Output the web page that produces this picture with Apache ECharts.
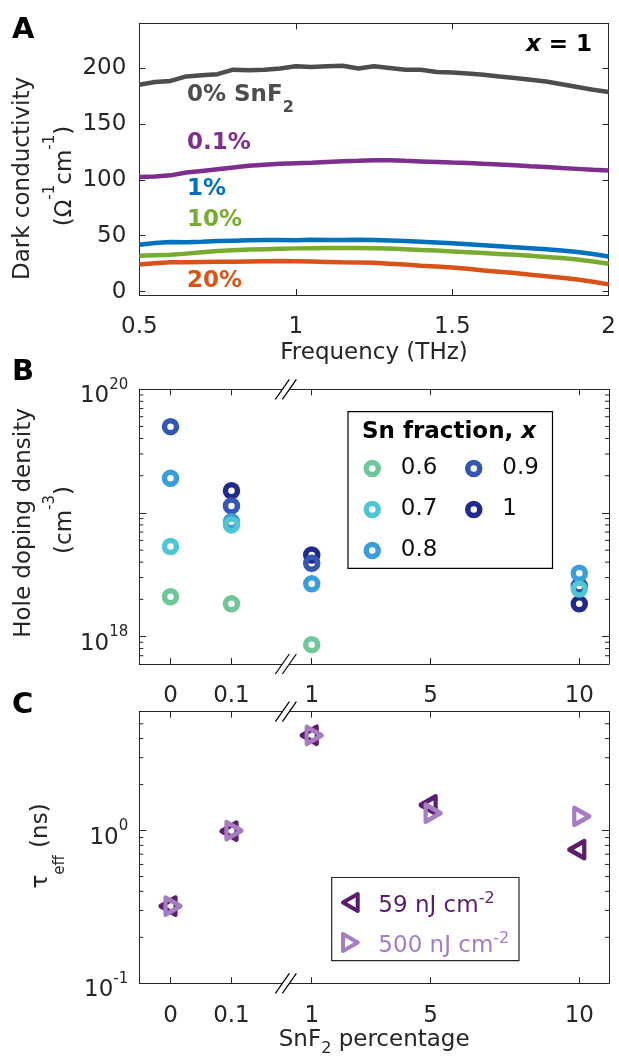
<!DOCTYPE html>
<html>
<head>
    <meta charset="UTF-8">
    <title>SnF2 conductivity / doping / lifetime</title>
    <script src="https://cdn.jsdelivr.net/npm/echarts@6.0.0/dist/echarts.min.js"></script>
    <style>
        html, body { margin: 0; padding: 0; background: #fff; }
        #chart { width: 619px; height: 1062px; }
    </style>
</head>
<body>
<div id="chart"></div>
<script>
    // ---- panel A: dark conductivity vs frequency (x = 1)
    const freq = [0.5, 0.55, 0.6, 0.65, 0.7, 0.75, 0.8, 0.85, 0.9, 0.95, 1.0, 1.05, 1.1, 1.15, 1.2, 1.25,
        1.3, 1.35, 1.4, 1.45, 1.5, 1.55, 1.6, 1.65, 1.7, 1.75, 1.8, 1.85, 1.9, 1.95, 2.0];
    const sigma0 = [185, 187.5, 188.5, 192.5, 193.5, 194.5, 198.5, 198, 198.5, 199.5, 201.5, 201, 201.5, 202, 199.5, 201.5,
        200, 198.5, 198.5, 196.5, 196, 195, 194, 192.5, 191, 189.5, 188, 185.5, 183, 180.5, 178.5];
    const sigma01 = [102.5, 103, 104, 106.5, 108, 109.5, 111, 112.5, 113.5, 114.3, 114.8, 115.3, 116, 116.6, 117, 117.5,
        117.6, 117, 116.5, 116, 115.4, 115, 114.3, 113.7, 113, 112.2, 111.5, 110.6, 109.8, 109, 108.3];
    const sigma1 = [42, 43.5, 44.5, 44.2, 44.6, 45.2, 45.6, 45.9, 46.2, 46.3, 46, 46.5, 46.2, 46.3, 46.5, 46.2,
        45.8, 45.2, 44.6, 43.9, 43.2, 42.4, 41.6, 40.7, 39.8, 38.9, 37.9, 36.8, 35.4, 33.6, 31.5];
    const sigma10 = [32, 32.5, 33, 34, 35.3, 36.3, 37, 37.6, 38, 38.4, 38.7, 38.9, 39, 39.1, 39.1, 38.9,
        38.6, 38, 37.3, 36.7, 36, 35.3, 34.5, 33.7, 32.9, 32, 31, 30, 28.7, 27, 25];
    const sigma20 = [24.3, 25.3, 26.2, 26.3, 26.5, 26.7, 26.8, 27, 27.2, 27.3, 27.2, 27, 26.6, 26.2, 26.1, 25.8,
        25, 24.2, 23.2, 22.4, 21.6, 20.4, 19, 17.8, 16.6, 15.2, 13.8, 12.4, 10.8, 8.8, 6.5];
    const yTicksA = [0, 50, 100, 150, 200];

    // ---- panels B and C share the broken SnF2 axis
    const pctLabels = ['0', '0.1', '1', '5', '10'];
    const pctPos = [-3.75, -1.7, 1, 5, 10];   // where each percentage sits on the broken axis
    const breakAt = 0.13;

    // hole doping density (cm^-3) per Sn fraction
    const hole06 = [2.1e18, 1.84e18, 8.6e17, null, null];
    const hole07 = [5.35e18, 8.0e18, null, null, 2.42e18];
    const hole08 = [1.91e19, 8.5e18, 2.67e18, null, 3.25e18];
    const hole09 = [4.99e19, 1.14e19, 3.92e18, null, 2.57e18];
    const hole10 = [null, 1.51e19, 4.57e18, null, 1.84e18];
    const logTicksB = [1e18, 1e19, 1e20];
    const logLabelsB = [1e18, 1e20];
    const minorB = [7e17, 8e17, 9e17, 2e18, 3e18, 4e18, 5e18, 6e18, 7e18, 8e18, 9e18,
        2e19, 3e19, 4e19, 5e19, 6e19, 7e19, 8e19, 9e19];

    // effective lifetime (ns)
    const tau59 = [0.32, 0.99, 4.2, 1.47, 0.75];
    const tau500 = [0.32, 1.0, 4.2, 1.30, 1.24];
    const logTicksC = [0.1, 1];
    const minorC = [0.2, 0.3, 0.4, 0.5, 0.6, 0.7, 0.8, 0.9, 2, 3, 4, 5];

    const AX = '#262626';
    const FONT = 'DejaVu Sans';
    const XMIN = -4.8, XMAX = 11;

    const chart = echarts.init(document.getElementById('chart'));

    const gridA = {left: 139.3, top: 23.3, width: 469.7, height: 271.7};
    const gridB = {left: 139.3, top: 389.3, width: 469.7, height: 274.7};
    const gridC = {left: 139.3, top: 711.7, width: 469.7, height: 271.6};

    function supLabel(v) {
        const e = Math.round(Math.log10(v));
        return '{b|10}{s|' + e + '}';
    }
    const supRich = {
        b: {fontSize: 23, lineHeight: 23, fontFamily: FONT, color: AX, padding: [14, 0, 0, 0]},
        s: {fontSize: 15, lineHeight: 15, fontFamily: FONT, color: AX, padding: [7, 0, 15, 0]}
    };
    function pctFormatter(v) {
        const i = pctPos.findIndex(p => Math.abs(p - v) < 1e-6);
        return i < 0 ? '' : pctLabels[i];
    }

    function baseAxis(grid, position) {
        return {
            gridIndex: grid, position: position,
            axisLine: {show: true, onZero: false, lineStyle: {color: AX, width: 1}},
            axisTick: {show: true, inside: true, length: 6, lineStyle: {color: AX, width: 1}},
            axisLabel: {show: false},
            splitLine: {show: false}
        };
    }

    const xAxes = [];
    // A bottom / top
    let ax = baseAxis(0, 'bottom');
    Object.assign(ax, {type: 'value', min: 0.5, max: 2, interval: 0.5,
        name: 'Frequency (THz)', nameLocation: 'middle', nameGap: 47,
        nameTextStyle: {fontSize: 23, fontFamily: FONT, color: AX}});
    ax.axisLabel = {show: true, fontSize: 23, fontFamily: FONT, color: AX, margin: 21};
    xAxes.push(ax);
    ax = baseAxis(0, 'top');
    Object.assign(ax, {type: 'value', min: 0.5, max: 2, interval: 0.5});
    xAxes.push(ax);
    // B bottom / top, C bottom / top
    [[1, 'bottom'], [1, 'top'], [2, 'bottom'], [2, 'top']].forEach(function (g) {
        const a = baseAxis(g[0], g[1]);
        a.type = 'value';
        a.min = XMIN;
        a.max = XMAX;
        a.axisTick.customValues = pctPos;
        xAxes.push(a);
    });
    xAxes[4].axisLabel = {show: true, customValues: pctPos, formatter: pctFormatter,
        fontSize: 23, fontFamily: FONT, color: AX, margin: 21};
    xAxes[4].name = '{a|SnF}{s|2}{a| percentage}';
    xAxes[4].nameLocation = 'middle';
    xAxes[4].nameGap = 46;
    xAxes[4].nameTextStyle = {rich: {
        a: {fontSize: 23, lineHeight: 23, fontFamily: FONT, color: AX, padding: [0, 0, 6, 0]},
        s: {fontSize: 16, lineHeight: 16, fontFamily: FONT, color: AX, padding: [13, 0, 0, 0]}
    }};
    xAxes[5].axisLabel = {show: true, customValues: pctPos, formatter: pctFormatter,
        fontSize: 23, fontFamily: FONT, color: AX, margin: 4};

    const yAxes = [];
    ['left', 'right'].forEach(function (side) {
        const a = baseAxis(0, side);
        Object.assign(a, {type: 'value', min: -3, max: 240});
        a.axisTick.customValues = yTicksA;
        if (side === 'left') {
            a.axisLabel = {show: true, customValues: yTicksA, fontSize: 23, fontFamily: FONT, color: AX, margin: 13};
        }
        yAxes.push(a);
    });
    ['left', 'right'].forEach(function (side) {
        const a = baseAxis(1, side);
        Object.assign(a, {type: 'log', logBase: 10, min: 6e17, max: 1e20});
        a.axisTick.customValues = logTicksB;
        a.axisTick.length = 7;
        if (side === 'left') {
            a.axisLabel = {show: true, customValues: logLabelsB, formatter: supLabel, rich: supRich, margin: 11};
        }
        yAxes.push(a);
    });
    ['left', 'right'].forEach(function (side) {
        const a = baseAxis(2, side);
        Object.assign(a, {type: 'log', logBase: 10, min: 0.1, max: 6});
        a.axisTick.customValues = logTicksC;
        a.axisTick.length = 7;
        if (side === 'left') {
            a.axisLabel = {show: true, customValues: logTicksC, formatter: supLabel, rich: supRich, margin: 11};
        }
        yAxes.push(a);
    });

    // minor log ticks on both sides of a log panel
    function minorTicks(xi, yi, vals) {
        return {
            type: 'custom', xAxisIndex: xi, yAxisIndex: yi, silent: true, z: 5,
            data: vals.map(v => [XMIN, v]),
            renderItem: function (params, api) {
                const l = api.coord([XMIN, api.value(1)]);
                const r = api.coord([XMAX, api.value(1)]);
                return {type: 'group', children: [
                    {type: 'line', shape: {x1: l[0], y1: l[1], x2: l[0] + 4, y2: l[1]}, style: {stroke: AX, lineWidth: 1}},
                    {type: 'line', shape: {x1: r[0], y1: r[1], x2: r[0] - 4, y2: r[1]}, style: {stroke: AX, lineWidth: 1}}
                ]};
            }
        };
    }
    // "//" break marks on top and bottom edges
    function breakMarks(xi, yi, lo, hi) {
        return {
            type: 'custom', xAxisIndex: xi, yAxisIndex: yi, silent: true, z: 20, clip: false,
            data: [[breakAt, lo], [breakAt, hi]],
            renderItem: function (params, api) {
                const p = api.coord([api.value(0), api.value(1)]);
                const dx = 7, dy = 10, g = 3.5;
                return {type: 'group', children: [
                    {type: 'polygon', shape: {points: [[p[0] - g - dx, p[1] + dy], [p[0] - g + dx, p[1] - dy],
                            [p[0] + g + dx, p[1] - dy], [p[0] + g - dx, p[1] + dy]]}, style: {fill: '#fff'}},
                    {type: 'line', shape: {x1: p[0] - g - dx, y1: p[1] + dy, x2: p[0] - g + dx, y2: p[1] - dy},
                        style: {stroke: '#000', lineWidth: 1.2}},
                    {type: 'line', shape: {x1: p[0] + g - dx, y1: p[1] + dy, x2: p[0] + g + dx, y2: p[1] - dy},
                        style: {stroke: '#000', lineWidth: 1.2}}
                ]};
            }
        };
    }

    function lineA(name, vals, color) {
        return {
            name: name, type: 'line', xAxisIndex: 0, yAxisIndex: 0, showSymbol: false, symbol: 'none',
            data: freq.map((f, i) => [f, vals[i]]),
            lineStyle: {color: color, width: 4.5}, itemStyle: {color: color}, z: 3
        };
    }
    function ringB(name, vals, color) {
        return {
            name: name, type: 'scatter', xAxisIndex: 2, yAxisIndex: 2, symbol: 'circle', symbolSize: 12,
            data: pctPos.map((x, i) => [x, vals[i]]).filter(d => d[1] != null),
            itemStyle: {color: 'rgba(255,255,255,0)', borderColor: color, borderWidth: 5.5, opacity: 1}, z: 4
        };
    }
    // equilateral-ish triangle, shifted so that its centroid sits on the point
    function triC(name, vals, color, rot) {
        const dir = rot > 0 ? -1 : 1;
        return {
            name: name, type: 'scatter', xAxisIndex: 4, yAxisIndex: 4, symbol: 'triangle', symbolSize: [17, 15],
            symbolRotate: rot, symbolOffset: [dir * 2.5, 0],
            data: pctPos.map((x, i) => [x, vals[i]]),
            itemStyle: {color: 'rgba(255,255,255,0)', borderColor: color, borderWidth: 4.5, borderJoin: 'round', opacity: 1},
            z: 4
        };
    }

    const COL = {
        '0.6': '#6ec797', '0.7': '#4fc6d3', '0.8': '#3c9ddd', '0.9': '#3356b0', '1': '#1f2a8c'
    };
    const DARK = '#5b1d6e', LIGHT = '#a77dc2';

    const series = [
        lineA('0%', sigma0, '#4d4d4d'),
        lineA('0.1%', sigma01, '#7e2f8e'),
        lineA('1%', sigma1, '#0072bd'),
        lineA('10%', sigma10, '#77ac30'),
        lineA('20%', sigma20, '#d95319'),
        ringB('1', hole10, COL['1']),
        ringB('0.9', hole09, COL['0.9']),
        ringB('0.8', hole08, COL['0.8']),
        ringB('0.7', hole07, COL['0.7']),
        ringB('0.6', hole06, COL['0.6']),
        triC('59', tau59, DARK, 90),
        triC('500', tau500, LIGHT, -90),
        minorTicks(2, 2, minorB),
        minorTicks(4, 4, minorC),
        breakMarks(2, 2, 6e17, 1e20),
        breakMarks(4, 4, 0.1, 6)
    ];

    const legendText = {fontSize: 23, lineHeight: 27, fontFamily: FONT, color: '#111'};
    const legends = [
        {data: ['0.6', '0.7', '0.8'], orient: 'vertical', left: 358.5, top: 450, itemWidth: 47, itemHeight: 12,
            itemGap: 14, textStyle: legendText, itemStyle: {borderWidth: 5.5}, selectedMode: false},
        {data: ['0.9', '1'], orient: 'vertical', left: 460, top: 450, itemWidth: 47, itemHeight: 12,
            itemGap: 14, textStyle: legendText, itemStyle: {borderWidth: 5.5}, selectedMode: false},
        {data: [{name: '59', icon: 'path://M0,5.77L10,0L10,11.55Z'}, {name: '500', icon: 'path://M10,5.77L0,0L0,11.55Z'}],
            orient: 'vertical', left: 336, top: 882, itemWidth: 46, itemHeight: 17, itemGap: 9,
            itemStyle: {borderWidth: 4, borderJoin: 'round'}, selectedMode: false,
            formatter: function (n) {
                return n === '59' ? '{d|59 nJ cm}{ds|-2}' : '{l|500 nJ cm}{ls|-2}';
            },
            textStyle: {fontFamily: FONT, rich: {
                d: {fontSize: 23, lineHeight: 23, fontFamily: FONT, color: DARK, padding: [8, 0, 0, 0]},
                ds: {fontSize: 16, lineHeight: 16, fontFamily: FONT, color: DARK, padding: [4, 0, 11, 0]},
                l: {fontSize: 23, lineHeight: 23, fontFamily: FONT, color: LIGHT, padding: [8, 0, 0, 0]},
                ls: {fontSize: 16, lineHeight: 16, fontFamily: FONT, color: LIGHT, padding: [4, 0, 11, 0]}
            }}}
    ];

    function txt(x, y, text, extra) {
        return {type: 'text', x: x, y: y, silent: true, z: 30,
            style: Object.assign({text: text, fontSize: 23, fontFamily: FONT, fill: AX,
                align: 'left', verticalAlign: 'middle', textAlign: 'left', textVerticalAlign: 'middle'}, extra || {})};
    }
    function vtxt(x, y, text, extra) {
        const t = txt(x, y, text, Object.assign({align: 'center', textAlign: 'center'}, extra || {}));
        t.rotation = Math.PI / 2;
        return t;
    }
    const ylabRich = {
        a: {fontSize: 23, lineHeight: 23, fontFamily: FONT, fill: AX, color: AX, padding: [11, 0, 0, 0]},
        s: {fontSize: 15, lineHeight: 15, fontFamily: FONT, fill: AX, color: AX, padding: [0, 0, 19, 0]}
    };
    function boldLabel(x, y, text, color) {
        return txt(x, y, text, {fill: color, fontWeight: 'bold', fontSize: 23});
    }

    const graphic = [
        txt(12, 30, 'A', {fontWeight: 'bold', fontSize: 29, fill: '#000'}),
        txt(12, 372, 'B', {fontWeight: 'bold', fontSize: 29, fill: '#000'}),
        txt(12, 705, 'C', {fontWeight: 'bold', fontSize: 29, fill: '#000'}),
        // y titles
        vtxt(23, 178.5, 'Dark conductivity'),
        vtxt(60, 176, '{a|(Ω}{s|-1}{a|cm}{s|-1}{a|)}', {rich: ylabRich}),
        vtxt(24, 523, 'Hole doping density'),
        vtxt(60, 520, '{a|(cm}{s|-3}{a|)}', {rich: ylabRich}),
        vtxt(49, 846, '{n|τ}{e|eff}{n| (ns)}', {rich: {
            n: {fontSize: 23, lineHeight: 23, fontFamily: FONT, fill: AX, padding: [0, 0, 15, 0]},
            e: {fontSize: 15, lineHeight: 15, fontFamily: FONT, fill: AX, padding: [23, 0, 0, 0]}
        }}),
        // curve labels
        txt(187, 99.5, '{a|0% SnF}{s|2}', {rich: {
            a: {fontSize: 23, lineHeight: 23, fontFamily: FONT, fontWeight: 'bold', fill: '#4d4d4d', padding: [0, 0, 9, 0]},
            s: {fontSize: 16, lineHeight: 16, fontFamily: FONT, fontWeight: 'bold', fill: '#4d4d4d', padding: [16, 0, 0, 0]}
        }}),
        boldLabel(187, 143, '0.1%', '#7e2f8e'),
        boldLabel(187, 189, '1%', '#0072bd'),
        boldLabel(187, 220, '10%', '#77ac30'),
        boldLabel(187, 281, '20%', '#d95319'),
        txt(592, 45, '{i|x}{b| = 1}', {align: 'right', textAlign: 'right', rich: {
            i: {fontSize: 23, fontFamily: FONT, fontWeight: 'bold', fontStyle: 'italic', fill: '#000'},
            b: {fontSize: 23, fontFamily: FONT, fontWeight: 'bold', fill: '#000'}
        }}),
        // legend frames
        {type: 'rect', silent: true, z: 1, shape: {x: 348, y: 411.7, width: 204.5, height: 156.6},
            style: {fill: '#fff', stroke: '#000', lineWidth: 1.2}},
        txt(362, 431.7, '{a|Sn fraction, }{i|x}', {rich: {
            a: {fontSize: 23, fontFamily: FONT, fontWeight: 'bold', fill: '#000'},
            i: {fontSize: 23, fontFamily: FONT, fontWeight: 'bold', fontStyle: 'italic', fill: '#000'}
        }}),
        {type: 'rect', silent: true, z: 1, shape: {x: 331.7, y: 877.5, width: 187.3, height: 83.2},
            style: {fill: '#fff', stroke: AX, lineWidth: 1.2}}
    ];

    chart.setOption({
        animation: false,
        backgroundColor: '#fff',
        textStyle: {fontFamily: FONT},
        grid: [gridA, gridB, gridC],
        xAxis: xAxes,
        yAxis: yAxes,
        legend: legends,
        graphic: graphic,
        series: series
    });
</script>
</body>
</html>
